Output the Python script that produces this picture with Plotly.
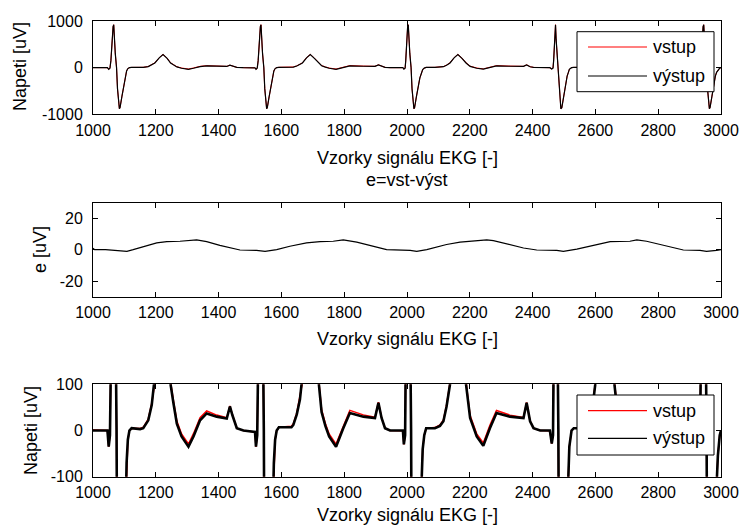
import numpy as np
import plotly.graph_objects as go

# ---------------- data ----------------
# ECG output signal (vystup), samples and microvolts
ekg_x = [1000, 1046, 1050, 1054, 1057, 1060, 1064, 1066, 1068, 1071, 1075, 1078, 1084, 1086, 1092, 1098,
         1103, 1107, 1111, 1116, 1123, 1150, 1160, 1176, 1187, 1197, 1211, 1223, 1236, 1247, 1256, 1267,
         1282, 1304, 1320, 1341, 1362, 1394, 1426, 1436, 1444, 1458, 1479, 1516,
         1519, 1523, 1526, 1529, 1533, 1535, 1537, 1540, 1544, 1547, 1553, 1555, 1561, 1567, 1572, 1576,
         1580, 1585, 1592, 1632, 1638, 1649, 1659, 1667, 1680, 1692, 1705, 1718, 1728, 1740, 1752, 1774,
         1790, 1797, 1818, 1861, 1898, 1909, 1919, 1930, 1946, 1987,
         1990, 1994, 1996, 1999, 2002, 2004, 2006, 2009, 2013, 2016, 2022, 2024, 2030, 2036, 2041, 2046,
         2050, 2055, 2061, 2089, 2105, 2116, 2126, 2137, 2150, 2162, 2175, 2188, 2201, 2222, 2243, 2264,
         2285, 2328, 2371, 2381, 2392, 2403, 2424, 2455, 2461, 2465,
         2467, 2470, 2472, 2473, 2475, 2478, 2482, 2485, 2490, 2493, 2499, 2505, 2510, 2514, 2517, 2524,
         2531, 2560, 2575, 2590, 2604, 2618, 2631, 2645, 2660, 2670, 2680, 2690, 2712, 2728, 2749, 2770,
         2802, 2834, 2844, 2852, 2866, 2887, 2924, 2929, 2933,
         2936, 2939, 2943, 2945, 2947, 2950, 2954, 2957, 2963, 2965, 2971, 2977, 2982, 2986, 2990, 2996, 3000]
vystup = [0, 0, -35, -10, 150, 600, 880, 920, 600, 300, 0, -450, -880, -860, -620, -360,
          -180, -70, -20, 0, 5, 3, 5, 22, 55, 100, 210, 280, 200, 100, 60, 15,
          -13, -35, -13, 22, 37, 30, 26, 52, 33, 5, 0, -3,
          -35, -10, 150, 600, 880, 920, 600, 300, 0, -450, -880, -860, -620, -360, -180, -70,
          -20, 0, 7, 7, 12, 35, 67, 100, 210, 280, 200, 100, 40, 10, -13, -35,
          -10, 5, 38, 30, 27, 60, 27, 5, 0, 0,
          -30, -10, 150, 600, 880, 920, 600, 300, 0, -450, -880, -860, -620, -380, -220, -120,
          -40, -10, 5, 5, 10, 20, 52, 100, 210, 280, 200, 100, 27, -13, -33, 5,
          38, 30, 27, 60, 20, 5, 0, 0, -28, -10,
          150, 600, 880, 920, 600, 300, 0, -450, -880, -860, -620, -360, -180, -100, -35, 0,
          5, 5, 12, 45, 100, 210, 280, 200, 100, 40, 10, -13, -35, -13, 22, 37,
          30, 26, 52, 33, 5, 0, -3, -30, -10,
          150, 600, 880, 920, 600, 300, 0, -450, -880, -860, -620, -360, -180, -100, -55, -10, 0]

# error signal e = vstup - vystup (slow baseline wander)
e_x = [1000, 1005, 1040, 1087, 1108, 1128, 1160, 1203, 1235, 1277, 1330, 1362, 1404, 1447, 1468, 1521,
       1548, 1585, 1627, 1680, 1723, 1765, 1797, 1840, 1882, 1935, 2010, 2031, 2063, 2126, 2169, 2201,
       2254, 2275, 2328, 2371, 2413, 2477, 2498, 2541, 2594, 2647, 2710, 2732, 2763, 2806, 2859, 2880,
       2933, 2954, 2986, 3000]
e_vals = [1.0, 0.0, 0.0, -1.0, -1.0, 0.0, 2.0, 4.3, 5.2, 5.4, 6.3, 5.2, 2.8, 0.7, -0.2, -0.4,
          -1.1, 0.0, 2.2, 4.3, 5.2, 5.4, 6.3, 4.8, 2.8, 0.0, -0.4, -1.1, 0.0, 3.3, 4.8, 5.4,
          6.3, 5.8, 3.3, 1.1, -0.2, -0.4, -1.1, 0.4, 2.8, 5.2, 5.4, 6.3, 5.4, 3.3, 0.7, -0.2,
          -0.4, -1.1, -0.4, 0.0]

# input = output + e  (since e = vst - vyst)
vystup_arr = np.array(vystup, dtype=float)
vstup_arr = vystup_arr + np.interp(ekg_x, e_x, e_vals)

x_ticks = [1000, 1200, 1400, 1600, 1800, 2000, 2200, 2400, 2600, 2800, 3000]
y_ticks_top = [-1000, 0, 1000]
y_ticks_mid = [-20, 0, 20]
y_ticks_bot = [-100, 0, 100]

series_names = ["vstup", "výstup"]
series_colors = ["#ff0000", "black"]
x_title = "Vzorky signálu EKG [-]"
mid_title = "e=vst-výst"

# ---------------- figure ----------------
W, H = 741, 527
def px_x(p):
    return p / W
def px_y(p):
    return 1 - p / H

FAM = "Liberation Sans, Arial, sans-serif"
TICKFONT = dict(family=FAM, size=16, color="black")
TITLEFONT = dict(family=FAM, size=18, color="black")

fig = go.Figure()

# top panel
fig.add_trace(go.Scatter(x=ekg_x, y=vstup_arr, mode="lines", name=series_names[0], showlegend=False,
                         line=dict(color=series_colors[0], width=1), xaxis="x", yaxis="y"))
fig.add_trace(go.Scatter(x=ekg_x, y=vystup_arr, mode="lines", name=series_names[1], showlegend=False,
                         line=dict(color=series_colors[1], width=1.2), xaxis="x", yaxis="y"))
# middle panel
fig.add_trace(go.Scatter(x=e_x, y=e_vals, mode="lines", name="e", showlegend=False,
                         line=dict(color="black", width=1.2), xaxis="x2", yaxis="y2"))
# bottom panel
fig.add_trace(go.Scatter(x=ekg_x, y=vstup_arr, mode="lines", name=series_names[0], showlegend=False,
                         line=dict(color=series_colors[0], width=1.5), xaxis="x3", yaxis="y3"))
fig.add_trace(go.Scatter(x=ekg_x, y=vystup_arr, mode="lines", name=series_names[1], showlegend=False,
                         line=dict(color=series_colors[1], width=2.6), xaxis="x3", yaxis="y3"))

xdom = [px_x(93), px_x(721)]
common = dict(showline=True, linecolor="black", linewidth=1, mirror="allticks", ticks="inside",
              ticklen=5, tickcolor="black", showgrid=False, zeroline=False, tickfont=TICKFONT,
              automargin=False)

def xaxis(anchor):
    return dict(common, domain=xdom, anchor=anchor, range=[1000, 3000], tickvals=x_ticks,
                ticktext=[str(v) for v in x_ticks], ticklabelstandoff=1)

def yaxis(anchor, dom, rng, tv):
    return dict(common, domain=dom, anchor=anchor, range=rng, tickvals=tv,
                ticktext=[str(v) for v in tv], ticklabelstandoff=6)

fig.update_layout(
    width=W, height=H, margin=dict(l=0, r=0, t=0, b=0, autoexpand=False),
    paper_bgcolor="white", plot_bgcolor="white", showlegend=False,
    xaxis=xaxis("y"),
    yaxis=yaxis("x", [px_y(114.3), px_y(21)], [-1000, 1000], y_ticks_top),
    xaxis2=xaxis("y2"),
    yaxis2=yaxis("x2", [px_y(296.7), px_y(202.7)], [-30, 30], y_ticks_mid),
    xaxis3=xaxis("y3"),
    yaxis3=yaxis("x3", [px_y(476.7), px_y(384.3)], [-100, 100], y_ticks_bot),
)

ann = []
shapes = []
for yy in (158, 339):
    ann.append(dict(text=x_title, x=px_x(407), y=px_y(yy), xref="paper", yref="paper",
                    showarrow=False, font=TITLEFONT, xanchor="center", yanchor="middle"))
ann.append(dict(text=x_title, x=px_x(407), y=px_y(526.5), xref="paper", yref="paper",
                showarrow=False, font=TITLEFONT, xanchor="center", yanchor="bottom"))
ann.append(dict(text=mid_title, x=px_x(407), y=px_y(180), xref="paper", yref="paper",
                showarrow=False, font=TITLEFONT, xanchor="center", yanchor="middle"))
ann.append(dict(text="Napeti [uV]", x=px_x(20), y=px_y(67), xref="paper", yref="paper", textangle=-90,
                showarrow=False, font=TITLEFONT, xanchor="center", yanchor="middle"))
ann.append(dict(text="e [uV]", x=px_x(40), y=px_y(250), xref="paper", yref="paper", textangle=-90,
                showarrow=False, font=TITLEFONT, xanchor="center", yanchor="middle"))
ann.append(dict(text="Napeti [uV]", x=px_x(31), y=px_y(431), xref="paper", yref="paper", textangle=-90,
                showarrow=False, font=TITLEFONT, xanchor="center", yanchor="middle"))

# legends (boxed, opaque, as in the reference)
for top, rows in ((31.7, (47, 76)), (395, (410.7, 438.3))):
    shapes.append(dict(type="rect", xref="paper", yref="paper", layer="above",
                       x0=px_x(577), x1=px_x(714), y0=px_y(top + 60), y1=px_y(top),
                       fillcolor="white", line=dict(color="black", width=1)))
    for name, col, ry in zip(series_names, series_colors, rows):
        shapes.append(dict(type="line", xref="paper", yref="paper", layer="above",
                           x0=px_x(588), x1=px_x(647), y0=px_y(ry), y1=px_y(ry),
                           line=dict(color=col, width=1.2)))
        ann.append(dict(text=name, x=px_x(651), y=px_y(ry), xref="paper", yref="paper",
                        showarrow=False, font=TITLEFONT, xanchor="left", yanchor="middle"))

fig.update_layout(annotations=ann, shapes=shapes)

fig.write_html("out.html", config={"displayModeBar": False},
               post_script="document.body.style.margin='0';document.body.style.padding='0';")
